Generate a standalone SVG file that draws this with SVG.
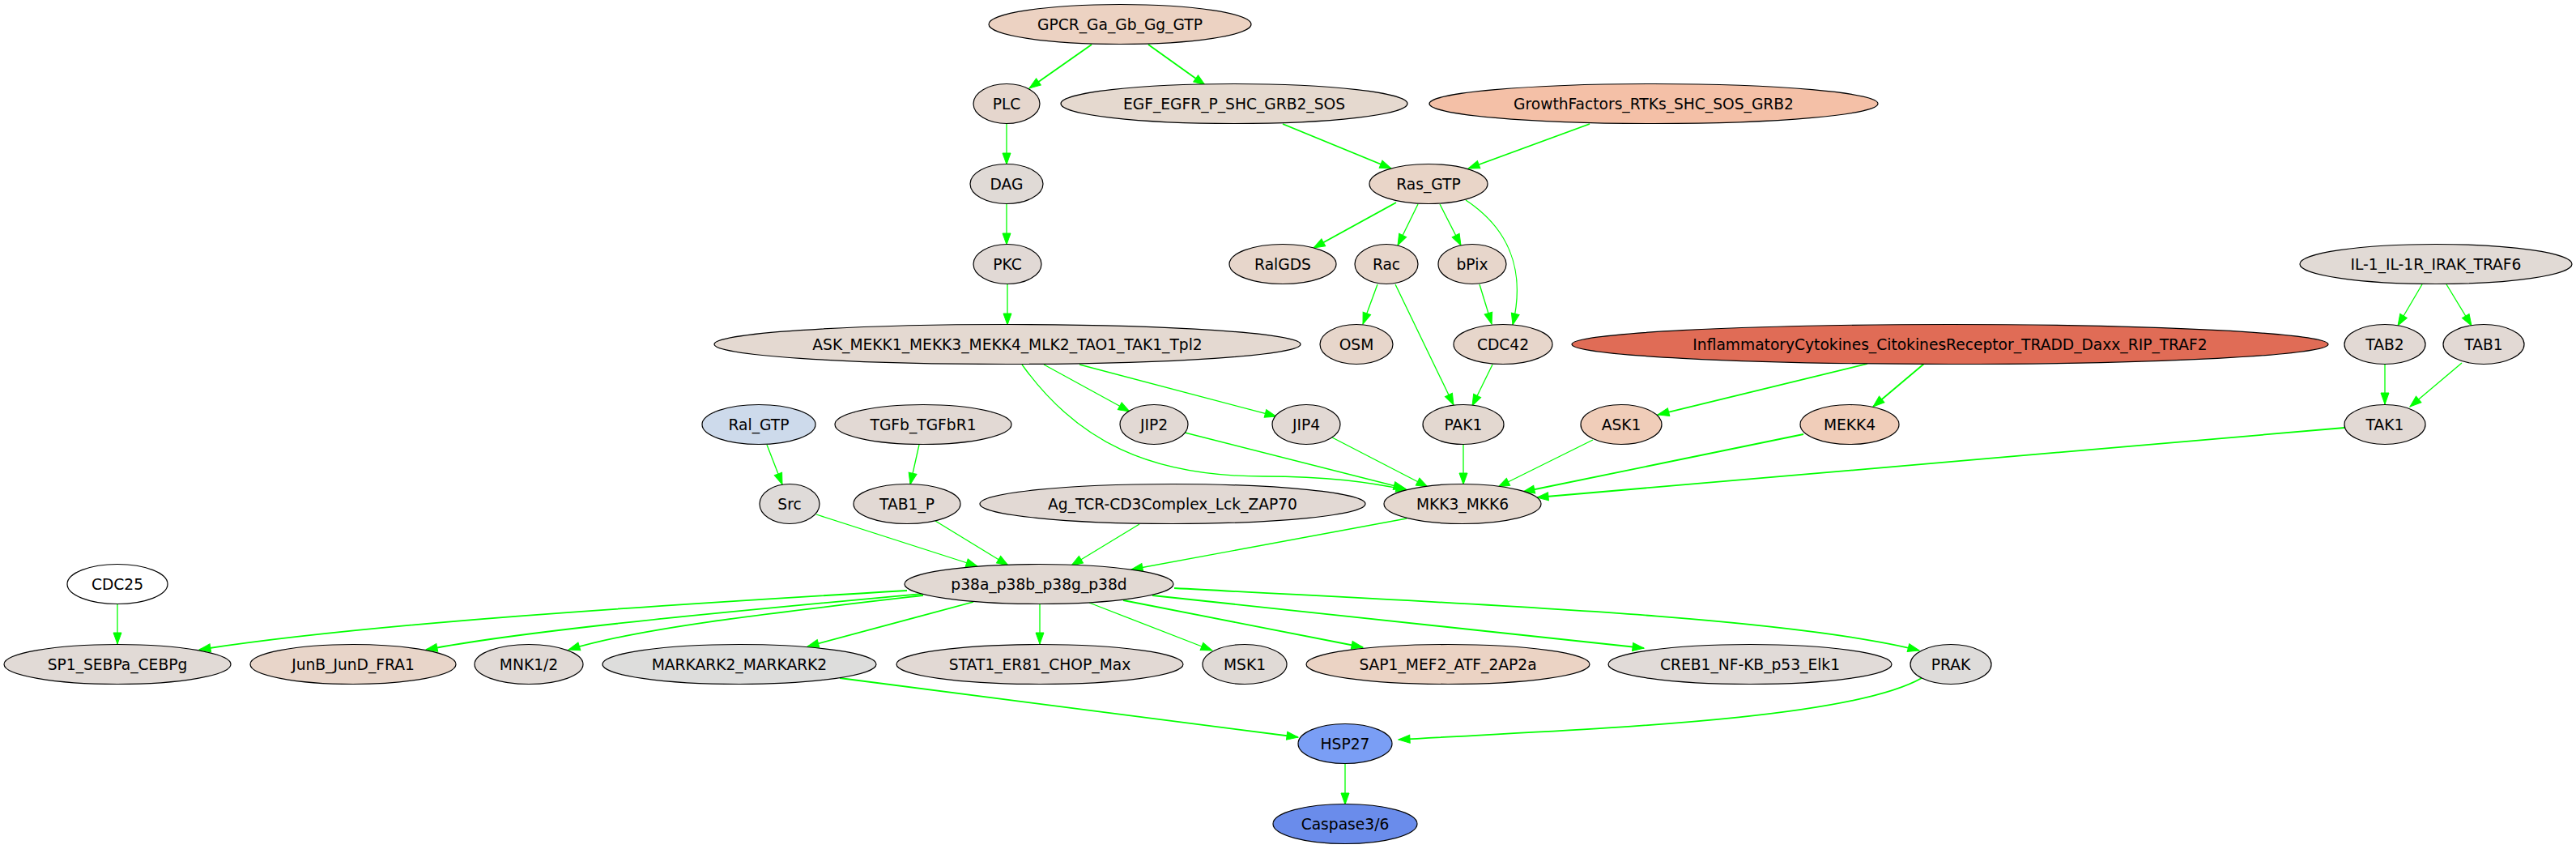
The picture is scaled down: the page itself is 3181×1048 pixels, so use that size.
<svg xmlns="http://www.w3.org/2000/svg" width="3181" height="1048" viewBox="0 0 3181 1048">
<style>
.n ellipse{stroke:#000;stroke-width:1.2}
.n text{font-family:"DejaVu Sans","Liberation Sans",sans-serif;font-size:18.67px;text-anchor:middle;fill:#000}
.e path{fill:none;stroke:#00ff00;stroke-width:1.3;marker-end:url(#ah)}
.e path.t{stroke-width:1.8}
</style>
<defs>
<marker id="ah" markerUnits="userSpaceOnUse" markerWidth="15" markerHeight="11" refX="14" refY="5" orient="auto" overflow="visible">
<path d="M0,0 L14,5 L0,10 Z" fill="#00ff00" stroke="#00ff00" stroke-width="1"/>
</marker>
</defs>
<rect width="3181" height="1048" fill="#fff"/>
<g id="edges" class="e">
<path class="t" d="M1348,55 L1271,109"/>
<path class="t" d="M1418,55 L1488,105"/>
<path class="t" d="M1584,153 L1718,208"/>
<path class="t" d="M1963,153 L1813,208"/>
<path d="M1243,153 L1243,203"/>
<path d="M1243,252 L1243,302"/>
<path d="M1244,351 L1244,401"/>
<path class="t" d="M1724,250 L1622,306"/>
<path d="M1751,252 L1726,303"/>
<path d="M1778,252 L1804,303"/>
<path d="M1810,247 C1860,280 1885,330 1868,401"/>
<path d="M1701,351 L1683,400"/>
<path d="M1723,351 L1795,500"/>
<path d="M1827,351 L1842,400"/>
<path d="M1843,450 L1818,501"/>
<path d="M1289,450 L1395,508"/>
<path d="M1333,450 L1576,514"/>
<path d="M1262,450 C1330,545 1420,588 1560,588 C1640,588 1690,595 1738,605"/>
<path d="M1463,534 L1735,603"/>
<path d="M1645,540 L1763,601"/>
<path d="M1807,548 L1807,598"/>
<path d="M1967,543 L1850,601"/>
<path class="t" d="M2227,536 L1881,607"/>
<path class="t" d="M2895,528 L1898,614"/>
<path class="t" d="M2306,449 L2047,512"/>
<path class="t" d="M2376,449 L2313,502"/>
<path d="M2991,351 L2961,402"/>
<path d="M3021,351 L3052,402"/>
<path d="M2945,450 L2945,499"/>
<path d="M3040,448 L2976,502"/>
<path d="M947,549 L966,598"/>
<path d="M1135,549 L1124,598"/>
<path d="M1008,635 L1207,699"/>
<path d="M1155,643 L1245,698"/>
<path d="M1407,647 L1323,698"/>
<path d="M1737,640 L1397,703"/>
<path d="M145,746 L145,795"/>
<path class="t" d="M1120,729 C800,748 450,770 246,802"/>
<path class="t" d="M1138,733 C900,755 650,778 526,802"/>
<path class="t" d="M1140,735 C950,757 790,775 702,802"/>
<path class="t" d="M1202,743 L997,798"/>
<path d="M1284,746 L1284,795"/>
<path d="M1345,744 L1497,803"/>
<path class="t" d="M1387,741 L1683,799"/>
<path class="t" d="M1423,735 L2030,800"/>
<path class="t" d="M1450,726 C1800,745 2200,760 2370,803"/>
<path class="t" d="M1037,837 L1603,910"/>
<path class="t" d="M2373,837 C2280,890 1950,900 1727,913"/>
<path d="M1661,943 L1661,993"/>
</g>
<g id="GPCR_Ga_Gb_Gg_GTP" class="n"><ellipse cx="1383" cy="30" rx="162" ry="24.5" fill="#ecd2c2"/><text x="1383" y="36.5">GPCR_Ga_Gb_Gg_GTP</text></g>
<g id="PLC" class="n"><ellipse cx="1243" cy="128" rx="41" ry="24.5" fill="#e5d6cd"/><text x="1243" y="134.5">PLC</text></g>
<g id="EGF_EGFR_P_SHC_GRB2_SOS" class="n"><ellipse cx="1524" cy="128" rx="214" ry="24.5" fill="#e5d9cf"/><text x="1524" y="134.5">EGF_EGFR_P_SHC_GRB2_SOS</text></g>
<g id="GrowthFactors_RTKs_SHC_SOS_GRB2" class="n"><ellipse cx="2042" cy="128" rx="277" ry="24.5" fill="#f4c0a7"/><text x="2042" y="134.5">GrowthFactors_RTKs_SHC_SOS_GRB2</text></g>
<g id="DAG" class="n"><ellipse cx="1243" cy="227" rx="45" ry="24.5" fill="#e0dad6"/><text x="1243" y="233.5">DAG</text></g>
<g id="Ras_GTP" class="n"><ellipse cx="1764" cy="227" rx="73" ry="24.5" fill="#e9d5c8"/><text x="1764" y="233.5">Ras_GTP</text></g>
<g id="PKC" class="n"><ellipse cx="1244" cy="326" rx="42" ry="24.5" fill="#e1d9d5"/><text x="1244" y="332.5">PKC</text></g>
<g id="RalGDS" class="n"><ellipse cx="1584" cy="326" rx="66" ry="24.5" fill="#e7d6cb"/><text x="1584" y="332.5">RalGDS</text></g>
<g id="Rac" class="n"><ellipse cx="1712" cy="326" rx="39" ry="24.5" fill="#e7d6cb"/><text x="1712" y="332.5">Rac</text></g>
<g id="bPix" class="n"><ellipse cx="1818" cy="326" rx="42" ry="24.5" fill="#e7d6cb"/><text x="1818" y="332.5">bPix</text></g>
<g id="IL-1_IL-1R_IRAK_TRAF6" class="n"><ellipse cx="3008" cy="326" rx="168" ry="24.5" fill="#e1dad5"/><text x="3008" y="332.5">IL-1_IL-1R_IRAK_TRAF6</text></g>
<g id="ASK_MEKK1_MEKK3_MEKK4_MLK2_TAO1_TAK1_Tpl2" class="n"><ellipse cx="1244" cy="425" rx="362" ry="24.5" fill="#e4d9d1"/><text x="1244" y="431.5">ASK_MEKK1_MEKK3_MEKK4_MLK2_TAO1_TAK1_Tpl2</text></g>
<g id="OSM" class="n"><ellipse cx="1675" cy="425" rx="45" ry="24.5" fill="#e7d6cb"/><text x="1675" y="431.5">OSM</text></g>
<g id="CDC42" class="n"><ellipse cx="1856" cy="425" rx="61" ry="24.5" fill="#e7d6cb"/><text x="1856" y="431.5">CDC42</text></g>
<g id="InflammatoryCytokines_CitokinesReceptor_TRADD_Daxx_RIP_TRAF2" class="n"><ellipse cx="2408" cy="425" rx="467" ry="24.5" fill="#e06c56"/><text x="2408" y="431.5">InflammatoryCytokines_CitokinesReceptor_TRADD_Daxx_RIP_TRAF2</text></g>
<g id="TAB2" class="n"><ellipse cx="2945" cy="425" rx="50" ry="24.5" fill="#e2d9d4"/><text x="2945" y="431.5">TAB2</text></g>
<g id="TAB1" class="n"><ellipse cx="3067" cy="425" rx="50" ry="24.5" fill="#e2d9d4"/><text x="3067" y="431.5">TAB1</text></g>
<g id="Ral_GTP" class="n"><ellipse cx="937" cy="524" rx="70" ry="24.5" fill="#cddaeb"/><text x="937" y="530.5">Ral_GTP</text></g>
<g id="TGFb_TGFbR1" class="n"><ellipse cx="1140" cy="524" rx="109" ry="24.5" fill="#e2d9d4"/><text x="1140" y="530.5">TGFb_TGFbR1</text></g>
<g id="JIP2" class="n"><ellipse cx="1425" cy="524" rx="42" ry="24.5" fill="#e2d9d4"/><text x="1425" y="530.5">JIP2</text></g>
<g id="JIP4" class="n"><ellipse cx="1613" cy="524" rx="42" ry="24.5" fill="#e2d9d4"/><text x="1613" y="530.5">JIP4</text></g>
<g id="PAK1" class="n"><ellipse cx="1807" cy="524" rx="50" ry="24.5" fill="#e3d8d0"/><text x="1807" y="530.5">PAK1</text></g>
<g id="ASK1" class="n"><ellipse cx="2002" cy="524" rx="50" ry="24.5" fill="#f0cdb9"/><text x="2002" y="530.5">ASK1</text></g>
<g id="MEKK4" class="n"><ellipse cx="2284" cy="524" rx="61" ry="24.5" fill="#f0cdb9"/><text x="2284" y="530.5">MEKK4</text></g>
<g id="TAK1" class="n"><ellipse cx="2945" cy="524" rx="50" ry="24.5" fill="#e2d9d4"/><text x="2945" y="530.5">TAK1</text></g>
<g id="Src" class="n"><ellipse cx="975" cy="622" rx="37" ry="24.5" fill="#dfdbd9"/><text x="975" y="628.5">Src</text></g>
<g id="TAB1_P" class="n"><ellipse cx="1120" cy="622" rx="66" ry="24.5" fill="#e2d9d4"/><text x="1120" y="628.5">TAB1_P</text></g>
<g id="Ag_TCR-CD3Complex_Lck_ZAP70" class="n"><ellipse cx="1448" cy="622" rx="238" ry="24.5" fill="#e2d9d4"/><text x="1448" y="628.5">Ag_TCR-CD3Complex_Lck_ZAP70</text></g>
<g id="MKK3_MKK6" class="n"><ellipse cx="1806" cy="622" rx="97" ry="24.5" fill="#e5d8cf"/><text x="1806" y="628.5">MKK3_MKK6</text></g>
<g id="CDC25" class="n"><ellipse cx="145" cy="721" rx="62" ry="24.5" fill="#ffffff"/><text x="145" y="727.5">CDC25</text></g>
<g id="p38a_p38b_p38g_p38d" class="n"><ellipse cx="1283" cy="721" rx="166" ry="24.5" fill="#e2d9d3"/><text x="1283" y="727.5">p38a_p38b_p38g_p38d</text></g>
<g id="SP1_SEBPa_CEBPg" class="n"><ellipse cx="145" cy="820" rx="140" ry="24.5" fill="#e1dad6"/><text x="145" y="826.5">SP1_SEBPa_CEBPg</text></g>
<g id="JunB_JunD_FRA1" class="n"><ellipse cx="436" cy="820" rx="127" ry="24.5" fill="#e8d5c9"/><text x="436" y="826.5">JunB_JunD_FRA1</text></g>
<g id="MNK1_2" class="n"><ellipse cx="653" cy="820" rx="67" ry="24.5" fill="#e1dad6"/><text x="653" y="826.5">MNK1/2</text></g>
<g id="MARKARK2_MARKARK2" class="n"><ellipse cx="913" cy="820" rx="169" ry="24.5" fill="#dddddc"/><text x="913" y="826.5">MARKARK2_MARKARK2</text></g>
<g id="STAT1_ER81_CHOP_Max" class="n"><ellipse cx="1284" cy="820" rx="177" ry="24.5" fill="#e2d9d4"/><text x="1284" y="826.5">STAT1_ER81_CHOP_Max</text></g>
<g id="MSK1" class="n"><ellipse cx="1537" cy="820" rx="52" ry="24.5" fill="#e0dad6"/><text x="1537" y="826.5">MSK1</text></g>
<g id="SAP1_MEF2_ATF_2AP2a" class="n"><ellipse cx="1788" cy="820" rx="175" ry="24.5" fill="#ebd3c4"/><text x="1788" y="826.5">SAP1_MEF2_ATF_2AP2a</text></g>
<g id="CREB1_NF-KB_p53_Elk1" class="n"><ellipse cx="2161" cy="820" rx="175" ry="24.5" fill="#e1dbd8"/><text x="2161" y="826.5">CREB1_NF-KB_p53_Elk1</text></g>
<g id="PRAK" class="n"><ellipse cx="2409" cy="820" rx="50" ry="24.5" fill="#dedcda"/><text x="2409" y="826.5">PRAK</text></g>
<g id="HSP27" class="n"><ellipse cx="1661" cy="918" rx="58" ry="24.5" fill="#7a9ef5"/><text x="1661" y="924.5">HSP27</text></g>
<g id="Caspase3_6" class="n"><ellipse cx="1661" cy="1017" rx="89" ry="24.5" fill="#6a8ceb"/><text x="1661" y="1023.5">Caspase3/6</text></g>
</svg>
